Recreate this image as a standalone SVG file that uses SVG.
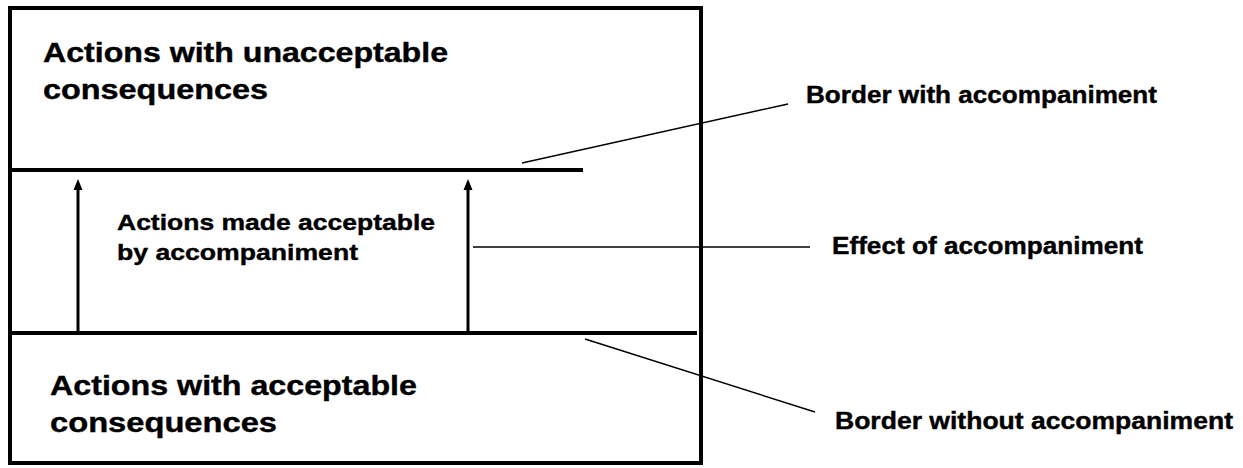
<svg xmlns="http://www.w3.org/2000/svg" width="1243" height="468" viewBox="0 0 1243 468">
<style>
text{font-family:"Liberation Sans",Arial,sans-serif;font-weight:bold;fill:#000;stroke:#000;stroke-width:0.4}
.big{font-size:27.5px}
.mid{font-size:22px}
.lab{font-size:23.5px}
.thick{stroke:#000;stroke-width:4;fill:none}
.arrow{stroke:#000;stroke-width:3;fill:none}
.lead{stroke:#000;stroke-width:1.5;fill:none}
.head{fill:#000}
</style>
<rect x="0" y="0" width="1243" height="468" fill="#fff"/>
<g id="frame">
<rect class="thick" x="10" y="8" width="691" height="455"/>
</g>
<g id="unacceptable">
<line class="thick" x1="12" y1="170" x2="583" y2="170"/>
<text class="big" x="43" y="62" textLength="405" lengthAdjust="spacingAndGlyphs">Actions with unacceptable</text>
<text class="big" x="43" y="99" textLength="225" lengthAdjust="spacingAndGlyphs">consequences</text>
</g>
<g id="made-acceptable">
<text class="mid" x="117" y="230" textLength="318" lengthAdjust="spacingAndGlyphs">Actions made acceptable</text>
<text class="mid" x="117" y="260" textLength="241" lengthAdjust="spacingAndGlyphs">by accompaniment</text>
</g>
<g id="acceptable">
<line class="thick" x1="10" y1="333" x2="697" y2="333"/>
<text class="big" x="50" y="395" textLength="367" lengthAdjust="spacingAndGlyphs">Actions with acceptable</text>
<text class="big" x="50" y="432" textLength="227" lengthAdjust="spacingAndGlyphs">consequences</text>
</g>
<g id="labels">
<text class="lab" x="835" y="429" textLength="398" lengthAdjust="spacingAndGlyphs">Border without accompaniment</text>
<text class="lab" x="806" y="103" textLength="351" lengthAdjust="spacingAndGlyphs">Border with accompaniment</text>
<text class="lab" x="832" y="254" textLength="311" lengthAdjust="spacingAndGlyphs">Effect of accompaniment</text>
</g>
<g id="connectors">
<path class="arrow" d="M78,331 V188"/>
<path class="head" d="M78,179 L73.5,190 L82.5,190 Z"/>
<path class="arrow" d="M468,331 V188"/>
<path class="head" d="M468,179 L463.5,190 L472.5,190 Z"/>
<line class="lead" x1="473" y1="247" x2="810" y2="247"/>
<line class="lead" x1="522" y1="163" x2="788" y2="104"/>
<line class="lead" x1="585" y1="339" x2="815" y2="412"/>
</g>
</svg>
